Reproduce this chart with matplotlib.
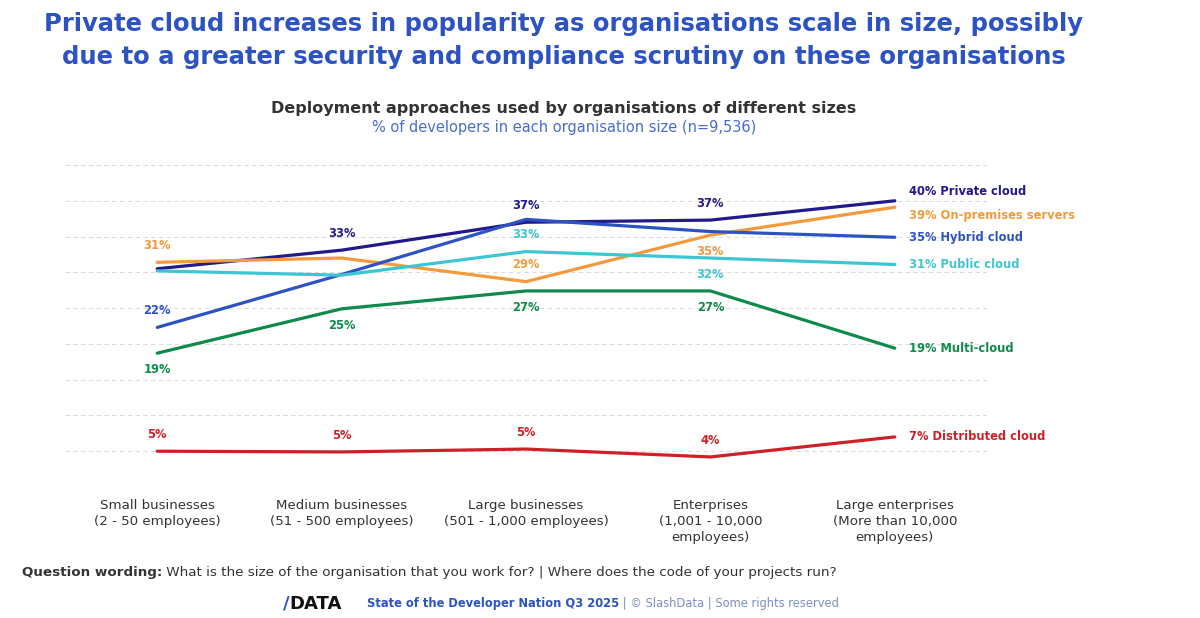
import matplotlib
matplotlib.use("Agg")
import matplotlib.pyplot as plt

plt.rcParams['font.family'] = ['DejaVu Sans']

categories = [
    "Small businesses\n(2 - 50 employees)",
    "Medium businesses\n(51 - 500 employees)",
    "Large businesses\n(501 - 1,000 employees)",
    "Enterprises\n(1,001 - 10,000\nemployees)",
    "Large enterprises\n(More than 10,000\nemployees)",
]

series_names = ["Private cloud", "On-premises servers", "Hybrid cloud",
                "Public cloud", "Multi-cloud", "Distributed cloud"]
private_cloud = [30.5, 33.1, 37.0, 37.3, 40.0]
on_premises = [31.4, 32.0, 28.7, 35.2, 39.1]
hybrid_cloud = [22.3, 29.7, 37.4, 35.7, 34.9]
public_cloud = [30.2, 29.6, 32.9, 32.0, 31.1]
multi_cloud = [18.7, 24.9, 27.4, 27.4, 19.4]
distributed_cloud = [5.0, 4.9, 5.3, 4.2, 7.0]

series_values = [private_cloud, on_premises, hybrid_cloud,
                 public_cloud, multi_cloud, distributed_cloud]
colors = ["#23198c", "#f39a3c", "#2d53c3", "#3cc6d2", "#0e8a4a", "#cf2027"]

# which points get a value label: (index, 'above' / 'below')
point_labels = [
    [(1, 'above'), (2, 'above'), (3, 'above')],
    [(0, 'above'), (2, 'above'), (3, 'below')],
    [(0, 'above')],
    [(2, 'above'), (3, 'below')],
    [(0, 'below'), (1, 'below'), (2, 'below'), (3, 'below')],
    [(0, 'above'), (1, 'above'), (2, 'above'), (3, 'above')],
]
# vertical nudge (points) of the end labels to avoid overlaps
end_nudge = [7, -6, 0, 0, 0, 0]

fig = plt.figure(figsize=(12, 6.18), dpi=100)
ax = fig.add_axes([0.0542, 0.212, 0.7683, 0.521])

x = list(range(len(categories)))
for vals, col, labs, name, nudge in zip(series_values, colors, point_labels,
                                        series_names, end_nudge):
    ax.plot(x, vals, color=col, lw=2.3, solid_capstyle='round', zorder=3)
    for i, pos in labs:
        off = 12 if pos == 'above' else -12
        ax.annotate(f"{vals[i]:.0f}%", (x[i], vals[i]), xytext=(0, off),
                    textcoords='offset points', ha='center', va='center',
                    color=col, fontsize=8.3, fontweight='bold')
    ax.annotate(f"{vals[-1]:.0f}% {name}", (x[-1], vals[-1]),
                xytext=(10, nudge), textcoords='offset points',
                ha='left', va='center', color=col, fontsize=8.3,
                fontweight='bold', annotation_clip=False)

ax.set_xlim(-0.5, 4.5)
ax.set_ylim(0, 45)
ax.set_yticks(range(0, 46, 5))
ax.yaxis.grid(True, color='#dcdcdc', lw=0.8, ls=(0, (4, 3)))
ax.set_axisbelow(True)
ax.tick_params(axis='y', left=False, labelleft=False)
ax.tick_params(axis='x', bottom=False, pad=5)
ax.set_xticks(x)
ax.set_xticklabels(categories, fontsize=9.6, color='#333333', va='top',
                   linespacing=1.3)
for s in ax.spines.values():
    s.set_visible(False)

title_blue = "#2d53c3"
fig.text(0.47, 0.98, "Private cloud increases in popularity as organisations scale in size, possibly\n"
         "due to a greater security and compliance scrutiny on these organisations",
         ha='center', va='top', fontsize=17.5, fontweight='bold', color=title_blue,
         linespacing=1.45)
fig.text(0.47, 0.825, "Deployment approaches used by organisations of different sizes",
         ha='center', va='center', fontsize=11.5, fontweight='bold', color='#333333')
fig.text(0.47, 0.793, "% of developers in each organisation size (n=9,536)",
         ha='center', va='center', fontsize=10.5, color='#4a6cd0')

t1 = fig.text(0.018, 0.073, "Question wording:", ha='left', va='center',
              fontsize=9.7, fontweight='bold', color='#333333')
ax.annotate(" What is the size of the organisation that you work for? | Where does the code of your projects run?",
            xy=(1, 0.5), xycoords=t1, ha='left', va='center', fontsize=9.7,
            color='#333333', annotation_clip=False)

l1 = fig.text(0.236, 0.023, "/", ha='left', va='center', fontsize=13,
              fontweight='bold', color=title_blue)
ax.annotate("DATA", xy=(1, 0.5), xycoords=l1, ha='left', va='center',
            fontsize=13, fontweight='bold', color='#111111',
            annotation_clip=False)
f1 = fig.text(0.306, 0.023, "State of the Developer Nation Q3 2025", ha='left',
              va='center', fontsize=8.3, fontweight='bold', color=title_blue)
ax.annotate(" | © SlashData | Some rights reserved", xy=(1, 0.5), xycoords=f1,
            ha='left', va='center', fontsize=8.3, color='#7b8fc4',
            annotation_clip=False)

fig.savefig("out.png", dpi=100, facecolor='white')
